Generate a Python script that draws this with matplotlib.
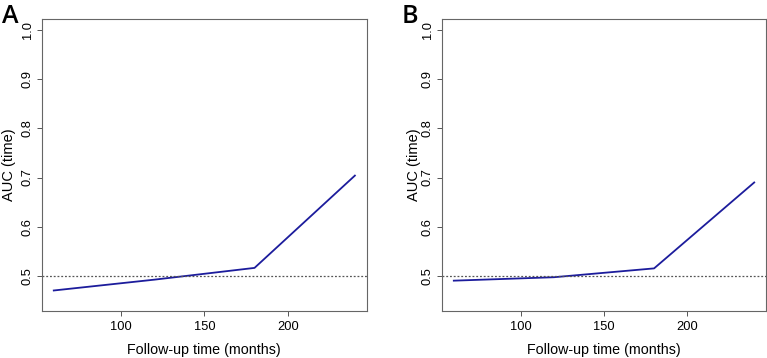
import matplotlib
matplotlib.use("Agg")
import matplotlib.pyplot as plt

plt.rcParams['font.family'] = ['Liberation Sans', 'DejaVu Sans']

# follow-up times (months) and time-dependent AUC for the two panels
months = [60, 120, 180, 240]
auc_a = [0.470, 0.492, 0.516, 0.704]
auc_b = [0.490, 0.497, 0.515, 0.690]
panel_labels = ['A', 'B']
x_ticks = [100, 150, 200]
y_ticks = [0.5, 0.6, 0.7, 0.8, 0.9, 1.0]

fig = plt.figure(figsize=(7.67, 3.58), dpi=100)
axes_pos = [[0.0544, 0.131, 0.424, 0.816], [0.576, 0.131, 0.423, 0.816]]
ylab_x = [-0.080, -0.064]

for pos, auc, lab, yl in zip(axes_pos, [auc_a, auc_b], panel_labels, ylab_x):
    ax = fig.add_axes(pos)
    ax.plot(months, auc, color='#1c1c9c', linewidth=1.3)
    ax.axhline(0.5, color='#555555', linestyle=(0, (1.5, 1.5)), linewidth=0.9)
    ax.set_xlim(52.8, 247.2)
    ax.set_ylim(0.428, 1.023)
    ax.set_xticks(x_ticks)
    ax.set_yticks(y_ticks)
    ax.set_yticklabels(['%.1f' % v for v in y_ticks], rotation=90, va='center')
    ax.tick_params(labelsize=9.3, length=3.5, width=0.7, color='#555555', pad=3.5)
    ax.tick_params(axis='y', pad=2.2)
    for s in ax.spines.values():
        s.set_color('#666666')
        s.set_linewidth(0.8)
    ax.set_xlabel('Follow-up time (months)', fontsize=10.3)
    ax.set_ylabel('AUC (time)', fontsize=10.5)
    ax.xaxis.set_label_coords(0.5, -0.108)
    ax.yaxis.set_label_coords(yl, 0.5)
    fig.text(pos[0] - 0.052, 0.99, lab, fontsize=18, va='top', ha='left',
             family=['Open Sans', 'DejaVu Sans'], weight='semibold')

plt.savefig("out.png", dpi=100)
